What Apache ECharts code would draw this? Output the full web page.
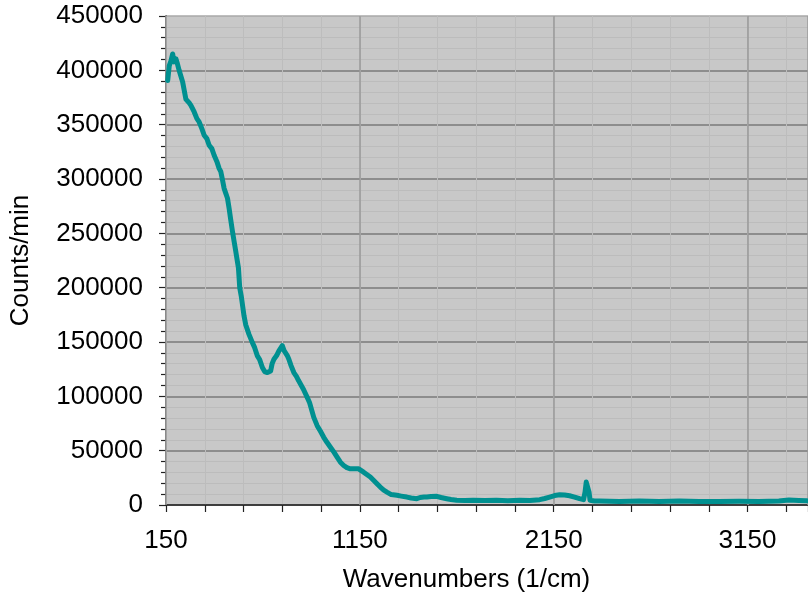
<!DOCTYPE html>
<html>
<head>
<meta charset="utf-8">
<script src="https://cdn.jsdelivr.net/npm/echarts@6/dist/echarts.min.js"></script>
<style>
html,body{margin:0;padding:0;background:#fff;}
#chart{width:808px;height:598px;}
</style>
</head>
<body>
<div id="chart"></div>
<script>
// Wavenumbers (1/cm)
const wavenumbers = [158.7,167,175.7,184.4,191,201.4,209,218,235.9,252.8,268,278.5,295.5,309.4,321,335,346.9,360.8,372.6,386.5,398.3,412.2,424,432.8,441.5,449.7,458.5,467.2,475.4,484.2,492.9,501.1,509.9,523.7,530.4,538.1,544.3,552.5,561.3,578.2,595.7,607.5,621.4,633.3,647.2,659,672.8,682.1,689.8,697.5,706.8,720.7,732.5,741.2,749.9,759.2,766.9,775.6,783.9,795.2,809.6,823.5,833.8,844,859.5,878.5,890.3,900.6,912.4,929.9,946.9,963.8,980.3,998.3,1016.3,1032.7,1049.7,1066.7,1083.1,1101.1,1121.7,1143.8,1157.7,1169.5,1186,1204,1222,1238.4,1255.4,1273.4,1289.8,1312,1341.2,1363.3,1392.6,1414.7,1444,1461,1481.5,1495.4,1517.5,1546.8,1569,1598.2,1620.3,1649.6,1692.3,1734.9,1795.1,1855.2,1913.4,1975.1,2026.5,2077.9,2103.6,2129.3,2155,2180.7,2206.4,2232.1,2257.8,2283.6,2304.1,2311.8,2318,2326.2,2332.4,2337.5,2360.6,2386.3,2489.2,2592,2694.8,2797.6,2900.4,3003.3,3106.1,3208.9,3311.7,3363.1,3414.5,3455.6];
// Counts/min
const counts = [390700,404400,408700,415100,407800,410500,406000,399800,389200,373300,370500,367700,361700,355600,352500,346400,340300,337200,331100,328000,321900,316200,309800,306700,299000,291400,286800,282300,273100,262100,251700,242800,233400,218100,199800,192400,184500,174100,165900,157000,149400,144800,137200,133800,126500,122800,121900,121000,123400,130100,134100,137500,141800,143000,146600,142000,140200,137500,134100,128300,121900,118200,114500,112700,106300,99000,94400,88000,80600,73000,67800,62300,57700,53200,48600,44000,39400,36400,34400,33300,33400,33300,31600,30200,28000,25700,22500,19500,16500,13700,11900,9600,8900,8200,7300,6400,5800,6900,7300,7300,7800,8000,6900,5800,5000,4300,4100,4300,4100,4300,3800,4300,4100,4900,6000,7300,8700,9400,9200,8500,7300,5800,4900,11900,21100,21100,11900,4300,3700,3700,3200,3700,3200,3700,3200,3200,3400,3200,3700,4600,4100,3800];

const xTitle = 'Wavenumbers (1/cm)';
const yTitle = 'Counts/min';

const X_MIN = 150, X_MAX = 3462, X_MAJOR = 1000, X_MINOR = 200;
const Y_MIN = 0, Y_MAX = 450000, Y_MAJOR = 50000;

const chart = echarts.init(document.getElementById('chart'), null, {renderer:'canvas'});
const font = 'Liberation Sans, Arial, sans-serif';
const isMajor = v => Math.abs(((v - X_MIN) % X_MAJOR)) < 1e-6;
const ySplitColors = ['#7a7a7a','#7a7a7a','#7a7a7a','#7a7a7a','#7a7a7a','#7a7a7a','#7a7a7a','#7a7a7a','#7a7a7a','#a8a8a8'];
chart.setOption({
  animation: false,
  backgroundColor: '#ffffff',
  grid: {
    left: 166, top: 16, right: 0, bottom: 91,
    show: true, backgroundColor: '#c8c8c8', borderWidth: 0
  },
  xAxis: [{
    type: 'value',
    min: X_MIN, max: X_MAX, interval: X_MINOR,
    position: 'bottom',
    axisLine: {show: true, onZero: false, lineStyle: {color: '#222', width: 1.5}},
    axisTick: {show: true, inside: false, length: 7, lineStyle: {color: '#222', width: 1.2}},
    axisLabel: {show: false},
    splitLine: {show: true, lineStyle: {color: '#bdbdbd', width: 1}},
    z: 1
  }, {
    type: 'value',
    min: X_MIN, max: X_MAX, interval: X_MAJOR,
    position: 'bottom',
    name: xTitle,
    nameLocation: 'middle',
    nameGap: 62,
    nameTextStyle: {fontFamily: font, fontSize: 26, color: '#000', padding: [0, 41, 0, 0]},
    axisLine: {show: false, onZero: false},
    axisTick: {show: false},
    axisLabel: {fontFamily: font, fontSize: 26, color: '#000', margin: 23, showMaxLabel: false,
      formatter: v => isMajor(v) ? String(v) : ''},
    splitLine: {show: true, lineStyle: {color: '#9a9a9a', width: 1.5}},
    z: 2
  }],
  yAxis: {
    type: 'value',
    min: Y_MIN, max: Y_MAX, interval: Y_MAJOR,
    name: yTitle,
    nameLocation: 'middle',
    nameGap: 132,
    nameTextStyle: {fontFamily: font, fontSize: 26, color: '#000'},
    axisLine: {show: true, lineStyle: {color: '#222', width: 1.5}},
    axisTick: {show: true, inside: false, length: 7, lineStyle: {color: '#222', width: 1.2}},
    minorTick: {show: true, splitNumber: 5, length: 5, lineStyle: {color: '#222', width: 1.2}},
    axisLabel: {fontFamily: font, fontSize: 26, color: '#000', margin: 23, padding: [6, 0, 0, 0],
      formatter: v => String(v)},
    splitLine: {show: true, lineStyle: {color: ySplitColors, width: 1.5}},
    minorSplitLine: {show: true, lineStyle: {color: '#bcbcbc', width: 1}}
  },
  series: [{
    type: 'line',
    xAxisIndex: 0,
    data: wavenumbers.map((w, i) => [w, counts[i]]),
    showSymbol: false,
    lineStyle: {color: '#009090', width: 5, join: 'round', cap: 'round'},
    itemStyle: {color: '#009090'},
    z: 5
  }]
});
</script>
</body>
</html>
